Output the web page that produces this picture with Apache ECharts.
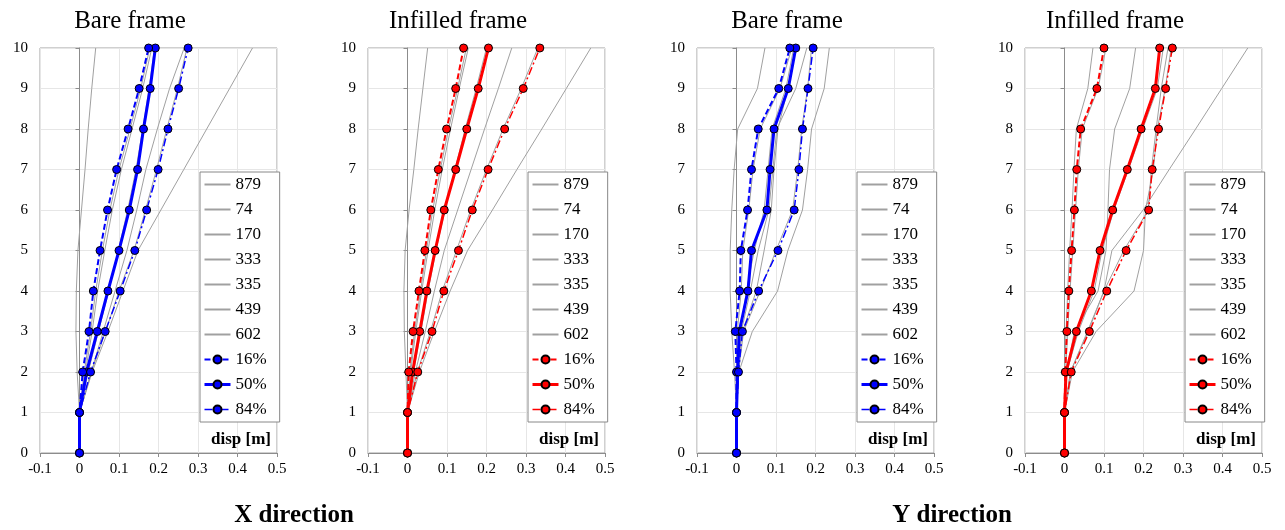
<!DOCTYPE html>
<html><head><meta charset="utf-8">
<script src="https://cdn.jsdelivr.net/npm/echarts@6/dist/echarts.min.js"></script>
<style>html,body{margin:0;padding:0;background:#fff}#c{width:1285px;height:530px}</style>
</head><body><div id="c"></div>
<script>
// ---------- DATA ----------
const floors = [0, 1, 2, 3, 4, 5, 6, 7, 8, 9, 10];
const recordNames = ['879', '74', '170', '333', '335', '439', '602'];
const percentileNames = ['16%', '50%', '84%'];
const panelTitles = ['Bare frame', 'Infilled frame', 'Bare frame', 'Infilled frame'];
const directionTitles = ['X direction', 'Y direction'];
const axisTitle = 'disp [m]';

// Panel 1: Bare frame, X direction
const bareX_p16 = [0, 0, 0.008, 0.024, 0.035, 0.052, 0.071, 0.094, 0.123, 0.151, 0.175];
const bareX_p50 = [0, 0, 0.018, 0.045, 0.072, 0.100, 0.126, 0.147, 0.162, 0.179, 0.192];
const bareX_p84 = [0, 0, 0.028, 0.065, 0.103, 0.140, 0.170, 0.199, 0.224, 0.251, 0.275];
const bareX_records = [
  [0, 0, -0.006, -0.009, -0.008, -0.004, 0.005, 0.014, 0.022, 0.031, 0.041],
  [0, 0, 0.012, 0.028, 0.041, 0.058, 0.077, 0.100, 0.128, 0.155, 0.178],
  [0, 0, 0.015, 0.032, 0.046, 0.064, 0.083, 0.106, 0.133, 0.160, 0.183],
  [0, 0, 0.022, 0.048, 0.074, 0.098, 0.122, 0.143, 0.160, 0.176, 0.190],
  [0, 0, 0.030, 0.060, 0.090, 0.120, 0.145, 0.168, 0.197, 0.228, 0.265],
  [0, 0, 0.030, 0.066, 0.100, 0.138, 0.167, 0.195, 0.221, 0.248, 0.272],
  [0, 0, 0.032, 0.072, 0.110, 0.148, 0.206, 0.264, 0.322, 0.380, 0.438]
];

// Panel 2: Infilled frame, X direction
const infX_p16 = [0, 0, 0.003, 0.014, 0.029, 0.044, 0.059, 0.078, 0.099, 0.122, 0.142];
const infX_p50 = [0, 0, 0.013, 0.031, 0.049, 0.070, 0.093, 0.122, 0.150, 0.179, 0.205];
const infX_p84 = [0, 0, 0.026, 0.062, 0.092, 0.129, 0.164, 0.204, 0.246, 0.293, 0.335];
const infX_records = [
  [0, 0, -0.004, -0.008, -0.009, -0.006, 0.004, 0.016, 0.027, 0.039, 0.051],
  [0, 0, 0.006, 0.018, 0.033, 0.048, 0.064, 0.083, 0.104, 0.127, 0.149],
  [0, 0, 0.008, 0.021, 0.036, 0.052, 0.069, 0.088, 0.109, 0.131, 0.154],
  [0, 0, 0.015, 0.034, 0.052, 0.072, 0.095, 0.120, 0.146, 0.174, 0.200],
  [0, 0, 0.020, 0.045, 0.068, 0.093, 0.127, 0.161, 0.195, 0.230, 0.264],
  [0, 0, 0.025, 0.058, 0.088, 0.124, 0.160, 0.200, 0.242, 0.288, 0.330],
  [0, 0, 0.030, 0.068, 0.108, 0.152, 0.215, 0.277, 0.340, 0.402, 0.464]
];

// Panel 3: Bare frame, Y direction
const bareY_p16 = [0, 0, 0.000, -0.003, 0.008, 0.011, 0.028, 0.038, 0.055, 0.107, 0.135];
const bareY_p50 = [0, 0, 0.003, 0.007, 0.029, 0.038, 0.077, 0.085, 0.095, 0.131, 0.150];
const bareY_p84 = [0, 0, 0.005, 0.015, 0.056, 0.105, 0.146, 0.158, 0.167, 0.181, 0.194];
const bareY_records = [
  [0, 0, -0.005, -0.012, -0.016, -0.016, -0.012, -0.006, 0.003, 0.053, 0.072],
  [0, 0, 0.000, 0.002, 0.012, 0.016, 0.031, 0.042, 0.060, 0.110, 0.140],
  [0, 0, 0.003, 0.010, 0.025, 0.045, 0.070, 0.080, 0.090, 0.125, 0.145],
  [0, 0, 0.004, 0.012, 0.035, 0.055, 0.082, 0.092, 0.102, 0.150, 0.178],
  [0, 0, 0.005, 0.018, 0.060, 0.100, 0.142, 0.155, 0.165, 0.180, 0.190],
  [0, 0, 0.006, 0.040, 0.104, 0.130, 0.167, 0.180, 0.190, 0.222, 0.235],
  [0, 0, 0.002, 0.015, 0.050, 0.070, 0.088, 0.095, 0.105, 0.130, 0.150]
];

// Panel 4: Infilled frame, Y direction
const infY_p16 = [0, 0, 0.002, 0.006, 0.011, 0.018, 0.025, 0.031, 0.041, 0.082, 0.100];
const infY_p50 = [0, 0, 0.004, 0.030, 0.068, 0.090, 0.122, 0.159, 0.194, 0.230, 0.241];
const infY_p84 = [0, 0, 0.017, 0.063, 0.107, 0.156, 0.213, 0.222, 0.238, 0.256, 0.273];
const infY_records = [
  [0, 0, 0.000, 0.004, 0.008, 0.013, 0.019, 0.024, 0.030, 0.059, 0.072],
  [0, 0, 0.003, 0.008, 0.014, 0.021, 0.028, 0.035, 0.045, 0.085, 0.105],
  [0, 0, 0.005, 0.025, 0.085, 0.105, 0.110, 0.114, 0.127, 0.165, 0.180],
  [0, 0, 0.006, 0.035, 0.075, 0.095, 0.125, 0.162, 0.198, 0.235, 0.250],
  [0, 0, 0.020, 0.080, 0.176, 0.200, 0.205, 0.225, 0.235, 0.255, 0.270],
  [0, 0, 0.015, 0.058, 0.100, 0.150, 0.212, 0.220, 0.232, 0.245, 0.262],
  [0, 0, 0.015, 0.060, 0.100, 0.120, 0.199, 0.265, 0.332, 0.398, 0.464]
];

// ---------- BUILD ----------
const panels = [
  { records: bareX_records, p: [bareX_p16, bareX_p50, bareX_p84], color: '#0000ff' },
  { records: infX_records,  p: [infX_p16,  infX_p50,  infX_p84],  color: '#ff0000' },
  { records: bareY_records, p: [bareY_p16, bareY_p50, bareY_p84], color: '#0000ff' },
  { records: infY_records,  p: [infY_p16,  infY_p50,  infY_p84],  color: '#ff0000' }
];
const gridLefts = [40, 368, 697, 1025];
const GW = 237, GT = 48, GH = 405;
const SERIF = 'Liberation Serif';
const GRAY = '#a0a0a0';
const fmt = v => String(+(+v).toFixed(1));
const pctStyles = [
  { width: 2, type: [6, 3] },
  { width: 3, type: 'solid' },
  { width: 1.5, type: [8, 3, 2, 3] }
];

const grid = [], xAxis = [], yAxis = [], series = [], legend = [], graphic = [];
panels.forEach((pn, i) => {
  const gl = gridLefts[i];
  const tag = '\u200b'.repeat(i);
  grid.push({ left: gl, top: GT, width: GW, height: GH, show: true, borderColor: GRAY, borderWidth: 1,
              backgroundColor: 'transparent', containLabel: false, outerBoundsMode: 'none' });
  xAxis.push({
    type: 'value', gridIndex: i, min: -0.1, max: 0.5, interval: 0.1,
    axisLine: { show: true, onZero: false, lineStyle: { color: '#8c8c8c', width: 1 } },
    axisTick: { show: true, length: 4, lineStyle: { color: '#8c8c8c' } },
    axisLabel: { formatter: fmt, fontFamily: SERIF, fontSize: 15, color: '#000', margin: 9, hideOverlap: false },
    splitLine: { show: true, lineStyle: { color: '#e6e6e6', width: 1 } }
  });
  yAxis.push({
    type: 'value', gridIndex: i, min: 0, max: 10, interval: 1, position: 'left',
    axisLine: { show: false, onZero: false },
    axisTick: { show: false },
    axisLabel: { fontFamily: SERIF, fontSize: 15, color: '#000', margin: 12, hideOverlap: false },
    splitLine: { show: true, lineStyle: { color: '#e6e6e6', width: 1 } }
  });
  yAxis.push({
    type: 'value', gridIndex: i, min: 0, max: 10, interval: 1, position: 'left',
    axisLine: { show: true, onZero: true, lineStyle: { color: '#8c8c8c', width: 1 } },
    axisTick: { show: true, length: 4, inside: false, lineStyle: { color: '#8c8c8c' } },
    axisLabel: { show: false },
    splitLine: { show: false }
  });
  const legendData = [];
  pn.records.forEach((rec, k) => {
    const nm = recordNames[k] + tag;
    legendData.push({ name: nm, itemStyle: { color: 'rgba(0,0,0,0)', borderColor: 'rgba(0,0,0,0)', borderWidth: 0 } });
    series.push({
      name: nm, type: 'line', xAxisIndex: i, yAxisIndex: 2 * i, z: 2,
      data: floors.map((f, j) => [rec[j], f]),
      symbol: 'none', showSymbol: false, silent: true, animation: false,
      lineStyle: { color: GRAY, width: 1 }, itemStyle: { color: GRAY }
    });
  });
  pn.p.forEach((vals, k) => {
    const nm = percentileNames[k] + tag;
    legendData.push({ name: nm, lineStyle: { color: pn.color, width: pctStyles[k].width, type: pctStyles[k].type } });
    series.push({
      name: nm, type: 'line', xAxisIndex: i, yAxisIndex: 2 * i, z: 3 + (k === 1 ? 0 : 1),
      data: floors.map((f, j) => [vals[j], f]),
      symbol: 'circle', symbolSize: 8, showSymbol: true, silent: true, animation: false,
      lineStyle: { color: pn.color, width: pctStyles[k].width, type: pctStyles[k].type },
      itemStyle: { color: pn.color, borderColor: '#000', borderWidth: 1 }
    });
  });
  legend.push({
    orient: 'vertical', left: gl + 160, top: 172,
    itemWidth: 26, itemHeight: 10, itemGap: 8,
    padding: [4, 13, 4, 3],
    backgroundColor: '#fff', borderColor: '#888', borderWidth: 1, borderRadius: 0,
    selectedMode: false,
    textStyle: { fontFamily: SERIF, fontSize: 17, color: '#000' },
    data: legendData
  });
  graphic.push({ type: 'text', x: gl + 90, y: 21, z: 10,
    style: { text: panelTitles[i], font: '25px "Liberation Serif"', fill: '#000', textAlign: 'center', textVerticalAlign: 'middle' } });
  graphic.push({ type: 'text', x: gl + 231, y: 440, z: 10,
    style: { text: axisTitle, font: 'bold 17px "Liberation Serif"', fill: '#000', textAlign: 'right', textVerticalAlign: 'middle' } });
});
graphic.push({ type: 'text', x: 294, y: 516, style: { text: directionTitles[0], font: 'bold 25px "Liberation Serif"', fill: '#000', textAlign: 'center', textVerticalAlign: 'middle' } });
graphic.push({ type: 'text', x: 952, y: 516, style: { text: directionTitles[1], font: 'bold 25px "Liberation Serif"', fill: '#000', textAlign: 'center', textVerticalAlign: 'middle' } });

const chart = echarts.init(document.getElementById('c'), null, { renderer: 'canvas' });
chart.setOption({
  animation: false, backgroundColor: '#fff',
  grid, xAxis, yAxis, series, legend, graphic,
  tooltip: { show: false }
});
</script></body></html>
